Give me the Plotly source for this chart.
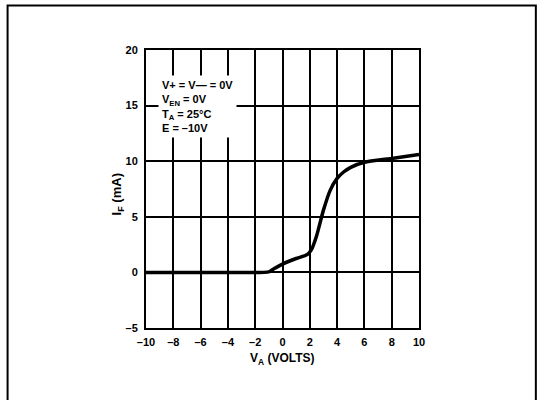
import plotly.graph_objects as go

# forward current vs. anode voltage
va_volts = [-10, -4, -1.0, -0.6, 0.0, 1.0, 1.8, 2.1, 2.5, 3.0, 3.5, 4.0, 4.5, 5.0, 6.0, 8.0, 10.0]
if_ma = [0.0, 0.0, 0.05, 0.35, 0.75, 1.25, 1.6, 2.0, 3.3, 5.6, 7.4, 8.45, 9.05, 9.45, 9.9, 10.25, 10.6]

x_ticks = [-10, -8, -6, -4, -2, 0, 2, 4, 6, 8, 10]
x_ticktext = ["–10", "–8", "–6", "–4", "–2", "0", "2", "4", "6", "8", "10"]
y_ticks = [-5, 0, 5, 10, 15, 20]
y_ticktext = ["–5", "0", "5", "10", "15", "20"]

conditions = "V+ = V— = 0V<br>V<sub>EN</sub> = 0V<br>T<sub>A</sub> = 25°C<br>E = –10V"

FONT = "Liberation Sans, Arial, sans-serif"

fig = go.Figure()
fig.add_trace(
    go.Scatter(
        x=va_volts,
        y=if_ma,
        mode="lines",
        line=dict(color="black", width=3.5, shape="spline", smoothing=0.6),
        showlegend=False,
        hoverinfo="skip",
    )
)

axis_common = dict(
    showline=True,
    mirror=True,
    linecolor="black",
    linewidth=2,
    showgrid=True,
    gridcolor="black",
    gridwidth=1.5,
    zeroline=False,
    ticks="",
    tickfont=dict(family=FONT, size=11, color="black", weight="bold"),
)

fig.update_xaxes(
    range=[-10, 10],
    tickvals=x_ticks,
    ticktext=x_ticktext,
    ticklabelstandoff=3,
    **axis_common,
)
fig.update_yaxes(
    range=[-5, 20],
    tickvals=y_ticks,
    ticktext=y_ticktext,
    ticklabelstandoff=4,
    **axis_common,
)

# outer frame of the figure
fig.add_shape(
    type="rect", xref="paper", yref="paper",
    x0=-0.507, x1=1.428, y0=-0.3, y1=1.16,
    line=dict(color="black", width=2),
)

fig.add_annotation(
    x=0.043, y=0.91, xref="paper", yref="paper",
    xanchor="left", yanchor="top", align="left",
    text=conditions, showarrow=False,
    bgcolor="white", borderpad=3,
    font=dict(family=FONT, size=11, color="black", weight="bold"),
)
fig.add_annotation(
    x=-0.103, y=0.48, xref="paper", yref="paper",
    xanchor="center", yanchor="middle",
    text="I<sub>F</sub> (mA)", textangle=-90, showarrow=False,
    font=dict(family=FONT, size=13, color="black", weight="bold"),
)
fig.add_annotation(
    x=0.5, y=-0.075, xref="paper", yref="paper",
    xanchor="center", yanchor="top",
    text="V<sub>A</sub> (VOLTS)", showarrow=False,
    font=dict(family=FONT, size=12, color="black", weight="bold"),
)

fig.update_layout(
    width=542,
    height=400,
    margin=dict(l=146, r=123, t=50, b=72),
    paper_bgcolor="white",
    plot_bgcolor="white",
)

fig.write_html(
    "out.html",
    config={"displayModeBar": False},
    post_script="document.body.style.margin='0';",
)
